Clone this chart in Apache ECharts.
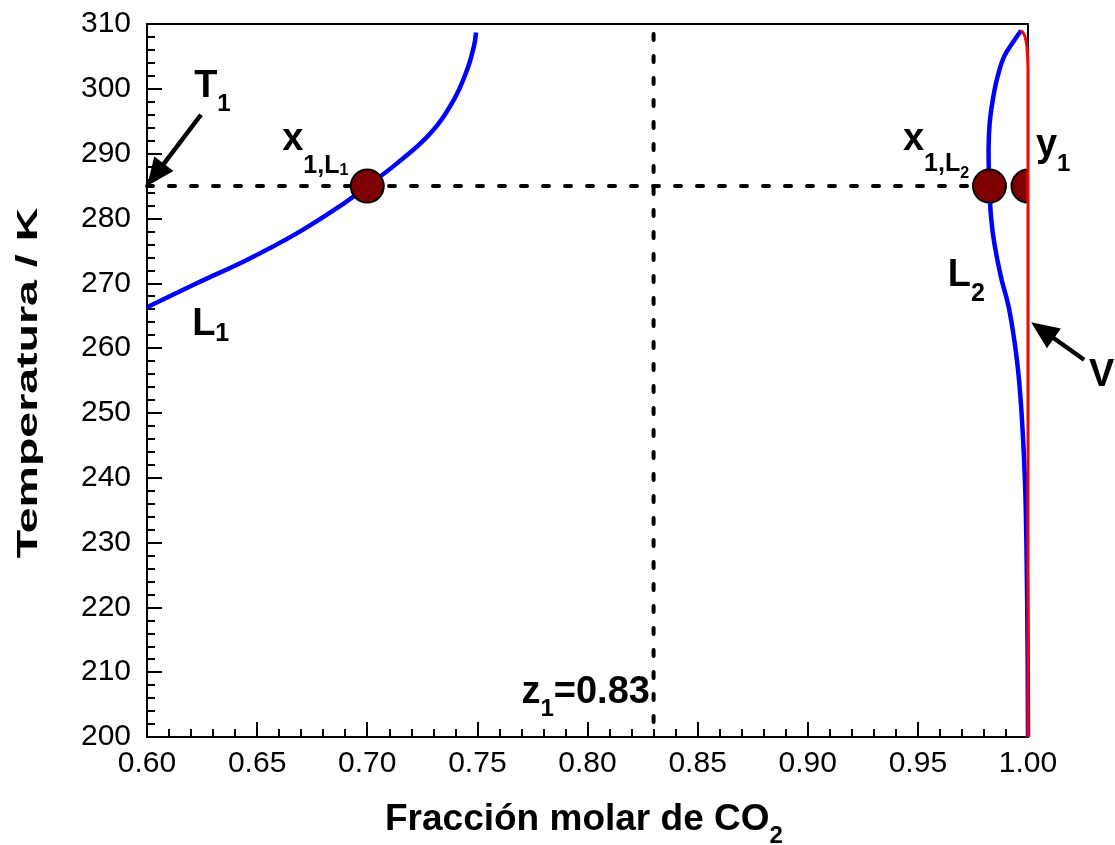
<!DOCTYPE html>
<html>
<head>
<meta charset="utf-8">
<script src="https://cdn.jsdelivr.net/npm/echarts@6/dist/echarts.min.js"></script>
<style>
  html, body { margin: 0; padding: 0; background: #ffffff; }
  #chart { width: 1115px; height: 845px; }
</style>
</head>
<body>
<div id="chart"></div>
<script>
const FONT = '"Liberation Sans", Arial, Helvetica, sans-serif';

// Axis ticks
const xTicks = [0.60, 0.65, 0.70, 0.75, 0.80, 0.85, 0.90, 0.95, 1.00];
const yTicks = [200, 210, 220, 230, 240, 250, 260, 270, 280, 290, 300, 310];

// Liquid phase L1 (CO2-poor liquid): CO2 mole fraction vs temperature / K
const l1X = [0.6000, 0.6226, 0.6453, 0.6680, 0.6893, 0.7000, 0.7135, 0.7286, 0.7393, 0.7453, 0.7484, 0.7494];
const l1T = [266.3, 270.0, 273.6, 277.7, 282.3, 285.0, 288.5, 293.1, 298.3, 302.9, 306.5, 308.7];

// Liquid phase L2 (CO2-rich liquid)
const l2X = [0.9969, 0.9938, 0.9892, 0.9862, 0.9840, 0.9826, 0.9821, 0.9822, 0.9825, 0.9832,
             0.9847, 0.9877, 0.9915, 0.9950, 0.9970, 0.9986, 0.9993, 0.9998, 1.0000];
const l2T = [309.0, 307.5, 305.0, 301.9, 298.3, 294.7, 290.6, 287.5, 285.0, 280.3,
             276.2, 271.0, 265.9, 258.1, 250.4, 239.6, 229.3, 213.9, 200.0];

// Vapour phase V
const vX = [0.9969, 0.9985, 0.9995, 1.0000, 1.0000];
const vT = [309.0, 308.2, 306.5, 303.0, 200.0];

// Three-phase temperature T1 and overall composition z1
const t1 = 285;
const z1 = 0.83;

// Coexisting compositions at T1: x1,L1 , x1,L2 , y1
const eqX = [0.7000, 0.9825, 1.0000];
const eqT = [285, 285, 285];

const zip = (xs, ys) => xs.map((x, i) => [x, ys[i]]);

const chart = echarts.init(document.getElementById('chart'), null, { renderer: 'canvas' });

const axisCommon = {
  type: 'value',
  axisLine: { show: true, lineStyle: { color: '#000', width: 2 } },
  axisTick: { show: true, inside: true, length: 15, lineStyle: { color: '#000', width: 2 } },
  minorTick: { show: true, splitNumber: 5, length: 8, lineStyle: { color: '#000', width: 2 } },
  splitLine: { show: false },
  minorSplitLine: { show: false }
};

const option = {
  backgroundColor: '#ffffff',
  animation: false,
  grid: {
    left: 147, right: 87, top: 24, bottom: 108,
    show: true, borderColor: '#000', borderWidth: 2, backgroundColor: 'transparent',
    containLabel: false, outerBoundsMode: 'none'
  },
  xAxis: Object.assign({}, axisCommon, {
    min: xTicks[0], max: xTicks[xTicks.length - 1], interval: 0.05,
    axisLabel: {
      show: true, margin: 12, color: '#000', fontSize: 30, fontFamily: FONT,
      showMinLabel: true, showMaxLabel: true,
      formatter: v => v.toFixed(2)
    }
  }),
  yAxis: Object.assign({}, axisCommon, {
    min: yTicks[0], max: yTicks[yTicks.length - 1], interval: 10,
    axisLabel: {
      show: true, margin: 16, color: '#000', fontSize: 30, fontFamily: FONT,
      showMinLabel: true, showMaxLabel: true,
      formatter: v => String(Math.round(v))
    }
  }),
  series: [
    {
      name: 'z1', type: 'line', data: [[z1, yTicks[yTicks.length - 1]], [z1, yTicks[0]]],
      showSymbol: false, symbol: 'none', silent: true, z: 2,
      lineStyle: { color: '#000', width: 4, type: [6, 16], dashOffset: 12, cap: 'round' }
    },
    {
      name: 'T1', type: 'line', data: [[xTicks[0], t1], [eqX[1], t1]],
      showSymbol: false, symbol: 'none', silent: true, z: 2,
      lineStyle: { color: '#000', width: 4, type: [6, 16], dashOffset: 0, cap: 'round' }
    },
    {
      name: 'L1', type: 'line', data: zip(l1X, l1T), showSymbol: false, symbol: 'none',
      smooth: 0.4, z: 3, lineStyle: { color: '#0000ff', width: 4.5 }
    },
    {
      name: 'L2', type: 'line', data: zip(l2X, l2T), showSymbol: false, symbol: 'none',
      smooth: 0.4, z: 3, lineStyle: { color: '#0000ff', width: 4.5 }
    },
    {
      name: 'equilibrium', type: 'custom', clip: true, z: 4,
      data: zip(eqX, eqT),
      renderItem: (params, api) => {
        const p = api.coord([api.value(0), api.value(1)]);
        return {
          type: 'circle',
          shape: { cx: p[0], cy: p[1], r: 16.5 },
          style: { fill: '#7f0000', stroke: '#000', lineWidth: 2 }
        };
      }
    },
    {
      name: 'V', type: 'line', data: zip(vX, vT), showSymbol: false, symbol: 'none',
      smooth: 0.4, z: 5, lineStyle: { color: '#ff0000', width: 3 }
    }
  ]
};

chart.setOption(option);

// ---- annotations: labels with subscripts and arrows ----
const measureCtx = document.createElement('canvas').getContext('2d');
function textWidth(str, size) {
  measureCtx.font = 'bold ' + size + 'px ' + FONT;
  return measureCtx.measureText(str).width;
}
const px = (x, y) => chart.convertToPixel({ gridIndex: 0 }, [x, y]);

// Each label: anchor (data coords, left of first glyph on its baseline) and parts [text, size, baseline shift]
const labels = [
  { at: [0.6214, 298.4], parts: [['T', 38, 0], ['1', 24, 14]] },
  { at: [0.6614, 290.2], parts: [['x', 38, 0], ['1,L', 25, 22], ['1', 16, 24]] },
  { at: [0.6205, 261.6], parts: [['L', 38, 0], ['1', 25, 5]] },
  { at: [0.9432, 290.1], parts: [['x', 38, 0], ['1,L', 25, 20], ['2', 16, 26]] },
  { at: [1.0036, 289.2], parts: [['y', 38, 0], ['1', 24, 14]] },
  { at: [0.9636, 269.1], parts: [['L', 38, 0], ['2', 25, 14]] },
  { at: [1.0277, 253.8], parts: [['V', 38, 0]] },
  { at: [0.7700, 204.9], parts: [['z', 38, 0], ['1', 24, 12], ['=0.83', 38, 0]] }
];

// Arrows: tail -> tip, data coords
const arrows = [
  { from: [0.6245, 296.0], to: [0.6000, 285.0] },
  { from: [1.0255, 258.2], to: [1.0014, 264.0] }
];

function partsToGraphics(x0, base, parts) {
  const out = [];
  let x = x0;
  parts.forEach(([t, size, dy]) => {
    out.push({
      type: 'text', x: x, y: base + dy - 0.3465 * size, z: 100,
      style: {
        text: t, fontSize: size, fontWeight: 'bold', fontFamily: FONT,
        fill: '#000', align: 'left', verticalAlign: 'middle'
      }
    });
    x += textWidth(t, size);
  });
  return out;
}

function arrowGraphics(a, b) {
  const A = px(a[0], a[1]), B = px(b[0], b[1]);
  const dx = B[0] - A[0], dy = B[1] - A[1];
  const L = Math.hypot(dx, dy), ux = dx / L, uy = dy / L;
  const hl = 28, hw = 12;
  const bx = B[0] - ux * hl, by = B[1] - uy * hl;
  return [
    {
      type: 'polyline', z: 100,
      shape: { points: [A, [bx + ux * 4, by + uy * 4]] },
      style: { stroke: '#000', lineWidth: 4.5, fill: null }
    },
    {
      type: 'polygon', z: 100,
      shape: { points: [B, [bx - uy * hw, by + ux * hw], [bx + uy * hw, by - ux * hw]] },
      style: { fill: '#000', stroke: null }
    }
  ];
}

let graphics = [];
labels.forEach(l => {
  const p = px(l.at[0], l.at[1]);
  graphics = graphics.concat(partsToGraphics(p[0], p[1], l.parts));
});
arrows.forEach(a => { graphics = graphics.concat(arrowGraphics(a.from, a.to)); });

// Axis titles
graphics = graphics.concat(partsToGraphics(385, 833, [['Fracción molar de CO', 37, 0], ['2', 24, 12]]));
graphics.push({
  type: 'text', x: 29, y: 383, rotation: Math.PI / 2, scaleX: 1.55, scaleY: 1, z: 100,
  style: {
    text: 'Temperatura / K', fontSize: 30, fontWeight: 'bold', fontFamily: FONT,
    fill: '#000', align: 'center', verticalAlign: 'middle'
  }
});

chart.setOption({ graphic: { elements: graphics } });
</script>
</body>
</html>
